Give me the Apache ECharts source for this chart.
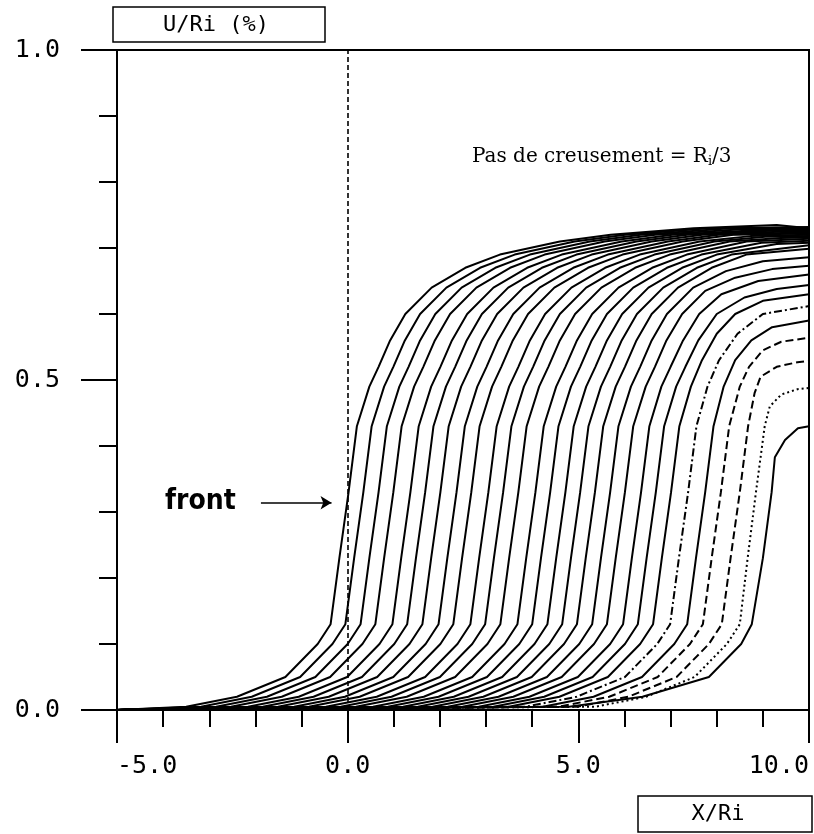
<!DOCTYPE html>
<html>
<head>
<meta charset="utf-8" />
<title>U/Ri front profiles</title>
<script src="https://cdn.jsdelivr.net/npm/echarts@6/dist/echarts.min.js"></script>
<style>
  html, body { margin: 0; padding: 0; background: #fff; }
  #main { width: 814px; height: 834px; }
</style>
</head>
<body>
<div id="main"></div>
<script>
// U levels shared by the lower (foot + steep) part of every profile
var uLevels = [0, 0.005, 0.02, 0.05, 0.10, 0.13, 0.23, 0.33, 0.43];

// X/Ri where each profile crosses uLevels (one row per excavation step)
var riseX = [
  [-5, -3.50, -2.40, -1.35, -0.65, -0.37, -0.18, 0.02, 0.20],
  [-5, -3.18, -2.08, -1.03, -0.33, -0.05, 0.14, 0.34, 0.52],
  [-5, -2.85, -1.75, -0.70, 0.00, 0.28, 0.47, 0.67, 0.85],
  [-5, -2.53, -1.43, -0.38, 0.32, 0.60, 0.79, 0.99, 1.17],
  [-5, -2.16, -1.06, -0.01, 0.69, 0.97, 1.16, 1.36, 1.54],
  [-5, -1.84, -0.74, 0.31, 1.01, 1.29, 1.48, 1.68, 1.86],
  [-5, -1.51, -0.41, 0.64, 1.34, 1.62, 1.81, 2.01, 2.19],
  [-5, -1.16, -0.06, 0.99, 1.69, 1.97, 2.16, 2.36, 2.54],
  [-5, -0.84, 0.26, 1.31, 2.01, 2.29, 2.48, 2.68, 2.86],
  [-5, -0.47, 0.63, 1.68, 2.38, 2.66, 2.85, 3.05, 3.23],
  [-5, -0.15, 0.95, 2.00, 2.70, 2.98, 3.17, 3.37, 3.55],
  [-5, 0.18, 1.28, 2.33, 3.03, 3.31, 3.50, 3.70, 3.88],
  [-5, 0.55, 1.65, 2.70, 3.40, 3.68, 3.87, 4.07, 4.25],
  [-5, 0.87, 1.97, 3.02, 3.72, 4.00, 4.19, 4.39, 4.57],
  [-5, 1.20, 2.30, 3.35, 4.05, 4.33, 4.52, 4.72, 4.90],
  [-5, 1.52, 2.62, 3.67, 4.37, 4.65, 4.84, 5.04, 5.22],
  [-5, 1.84, 2.94, 3.99, 4.69, 4.97, 5.16, 5.36, 5.54],
  [-5, 2.17, 3.27, 4.32, 5.02, 5.30, 5.49, 5.69, 5.87],
  [-5, 2.49, 3.59, 4.64, 5.34, 5.62, 5.81, 6.01, 6.19],
  [-5, 2.84, 3.94, 4.99, 5.69, 5.97, 6.16, 6.36, 6.54],
  [-5, 3.16, 4.26, 5.31, 6.01, 6.29, 6.48, 6.68, 6.86],
  [-5, 3.49, 4.59, 5.64, 6.34, 6.62, 6.81, 7.01, 7.19],
  [-5, 3.86, 4.96, 6.01, 6.71, 6.99, 7.18, 7.38, 7.56],
  [-5, 4.23, 5.33, 6.38, 7.08, 7.36, 7.55, 7.75, 7.93],
  [-5, 4.57, 5.67, 6.72, 7.42, 7.70, 7.89, 8.09, 8.27],
  [-5, 4.98, 6.08, 7.13, 7.83, 8.11, 8.30, 8.50, 8.68],
  [-5, 5.37, 6.47, 7.52, 8.22, 8.50, 8.67, 8.85, 9.04],
  [-5, 4.80, 6.39, 7.83, 8.53, 8.76, 9.00, 9.19]
];

// upper bend and plateau of each profile, [X/Ri, U/Ri]
var plateauPts = [
  [[0.47,.49],[0.67,.52],[0.92,.56],[1.25,.60],[1.82,.64],[2.55,.67],[3.30,.69],[4.60,.71],[5.70,.72],[7.50,.73],[9.30,.735],[10,.73]],
  [[0.79,.49],[0.99,.52],[1.24,.56],[1.57,.60],[2.14,.64],[2.87,.67],[3.62,.69],[4.92,.71],[6.02,.72],[7.82,.73],[10,.732]],
  [[1.12,.49],[1.32,.52],[1.57,.56],[1.90,.60],[2.47,.64],[3.20,.67],[3.95,.69],[5.25,.71],[6.35,.72],[8.15,.729],[10,.73]],
  [[1.44,.49],[1.64,.52],[1.89,.56],[2.22,.60],[2.79,.64],[3.52,.67],[4.27,.69],[5.57,.71],[6.67,.72],[8.47,.728],[10,.728]],
  [[1.81,.49],[2.01,.52],[2.26,.56],[2.59,.60],[3.16,.64],[3.89,.67],[4.64,.69],[5.94,.71],[7.04,.72],[8.84,.727],[10,.727]],
  [[2.13,.49],[2.33,.52],[2.58,.56],[2.91,.60],[3.48,.64],[4.21,.67],[4.96,.69],[6.26,.71],[7.36,.72],[9.16,.726],[10,.726]],
  [[2.46,.49],[2.66,.52],[2.91,.56],[3.24,.60],[3.81,.64],[4.54,.67],[5.29,.69],[6.59,.71],[7.69,.72],[9.49,.725],[10,.725]],
  [[2.81,.49],[3.01,.52],[3.26,.56],[3.59,.60],[4.16,.64],[4.89,.67],[5.64,.69],[6.94,.71],[8.04,.72],[10,.724]],
  [[3.13,.49],[3.33,.52],[3.58,.56],[3.91,.60],[4.48,.64],[5.21,.67],[5.96,.69],[7.26,.71],[8.36,.72],[10,.722]],
  [[3.50,.49],[3.70,.52],[3.95,.56],[4.28,.60],[4.85,.64],[5.58,.67],[6.33,.69],[7.63,.71],[8.73,.718],[10,.72]],
  [[3.82,.49],[4.02,.52],[4.27,.56],[4.60,.60],[5.17,.64],[5.90,.67],[6.65,.69],[7.95,.71],[9.05,.717],[10,.718]],
  [[4.15,.49],[4.35,.52],[4.60,.56],[4.93,.60],[5.50,.64],[6.23,.67],[6.98,.69],[8.28,.71],[9.38,.715],[10,.716]],
  [[4.52,.49],[4.72,.52],[4.97,.56],[5.30,.60],[5.87,.64],[6.60,.67],[7.35,.69],[8.65,.71],[10,.714]],
  [[4.84,.49],[5.04,.52],[5.29,.56],[5.62,.60],[6.19,.64],[6.92,.67],[7.67,.69],[8.97,.708],[10,.711]],
  [[5.17,.49],[5.37,.52],[5.62,.56],[5.95,.60],[6.52,.64],[7.25,.67],[8.00,.69],[9.30,.706],[10,.708]],
  [[5.49,.49],[5.69,.52],[5.94,.56],[6.27,.60],[6.84,.64],[7.57,.67],[8.32,.69],[10,.704]],
  [[5.81,.49],[6.01,.52],[6.26,.56],[6.59,.60],[7.16,.64],[7.89,.67],[8.64,.69],[10,.699]],
  [[6.14,.49],[6.34,.52],[6.59,.56],[6.92,.60],[7.49,.64],[8.20,.665],[9.00,.68],[10,.686]],
  [[6.46,.49],[6.66,.52],[6.91,.56],[7.25,.60],[7.75,.635],[8.40,.655],[9.20,.668],[10,.673]],
  [[6.80,.49],[7.00,.52],[7.27,.56],[7.62,.60],[8.10,.63],[8.90,.65],[10,.66]],
  [[7.12,.49],[7.32,.52],[7.60,.56],[8.00,.60],[8.60,.625],[9.30,.638],[10,.644]],
  [[7.44,.49],[7.68,.53],[8.00,.57],[8.40,.60],[9.00,.62],[10,.63]],
  [[7.80,.49],[8.05,.53],[8.45,.57],[9.00,.60],[10,.612]],
  [[8.15,.49],[8.40,.53],[8.75,.56],[9.20,.58],[10,.59]],
  [[8.50,.49],[8.70,.52],[9.00,.545],[9.40,.558],[10,.564]],
  [[8.82,.48],[8.95,.505],[9.30,.52],[9.75,.527],[10,.529]],
  [[9.15,.46],[9.40,.478],[9.75,.486],[10,.488]],
  [[9.26,.383],[9.48,.409],[9.76,.427],[10,.43]]
];

// plotter pen style of each profile
var penTypes = ['solid','solid','solid','solid','solid','solid','solid','solid','solid','solid',
  'solid','solid','solid','solid','solid','solid','solid','solid','solid','solid',
  'solid','solid','dashdot','solid','dashed','dashed','dotted','solid'];

var xTicks = { min: -5, max: 10, step: 5 };
var yTicks = { min: 0, max: 1, step: 0.5 };
var frontX = 0;
var arrowFrom = [-1.88, 0.314], arrowTo = [-0.35, 0.314];

var dashMap = {
  solid: 'solid',
  dashed: [8, 4],
  dotted: [2, 3],
  dashdot: [8, 3, 2, 3]
};

var series = riseX.map(function (xs, i) {
  var data = xs.map(function (x, j) { return [x, uLevels[j]]; });
  data = data.concat(plateauPts[i]);
  return {
    type: 'line',
    data: data,
    showSymbol: false,
    silent: true,
    lineStyle: { color: '#000', width: 2, type: dashMap[penTypes[i]] },
    z: 2
  };
});

series[0].markLine = {
  silent: true,
  symbol: ['none', 'none'],
  label: { show: false },
  lineStyle: { color: '#000', width: 1.6, type: [5, 3] },
  data: [{ xAxis: frontX }]
};
series[1].markLine = {
  silent: true,
  symbol: ['none', 'arrow'],
  symbolSize: [10, 11],
  label: { show: false },
  lineStyle: { color: '#000', width: 1.6, type: 'solid' },
  data: [[{ coord: arrowFrom }, { coord: arrowTo }]]
};

var axisFont = { fontFamily: 'DejaVu Sans Mono', fontSize: 25, color: '#000' };
var pen = { color: '#000', width: 2 };

var chart = echarts.init(document.getElementById('main'), null, { renderer: 'canvas' });
chart.setOption({
  animation: false,
  backgroundColor: '#fff',
  grid: {
    left: 117, right: 5, top: 50, bottom: 124,
    show: true, borderColor: '#000', borderWidth: 2
  },
  xAxis: {
    type: 'value',
    min: xTicks.min, max: xTicks.max, interval: xTicks.step,
    axisLine: { show: true, onZero: false, lineStyle: pen },
    axisTick: { show: true, length: 33, lineStyle: pen },
    minorTick: { show: true, splitNumber: 5, length: 17, lineStyle: pen },
    splitLine: { show: false },
    axisLabel: Object.assign({
      margin: 44,
      alignMinLabel: 'left',
      alignMaxLabel: 'right',
      formatter: function (v) { return v.toFixed(1); }
    }, axisFont)
  },
  yAxis: {
    type: 'value',
    min: yTicks.min, max: yTicks.max, interval: yTicks.step,
    axisLine: { show: true, onZero: false, lineStyle: pen },
    axisTick: { show: true, length: 36, lineStyle: pen },
    minorTick: { show: true, splitNumber: 5, length: 18, lineStyle: pen },
    splitLine: { show: false },
    axisLabel: Object.assign({
      margin: 57,
      formatter: function (v) { return v.toFixed(1); }
    }, axisFont)
  },
  graphic: [
    { type: 'rect', shape: { x: 113, y: 7, width: 212, height: 35 },
      style: { fill: 'none', stroke: '#000', lineWidth: 1.5 } },
    { type: 'text', x: 216, y: 25,
      style: { text: 'U/Ri (%)', fill: '#000', font: '22px "DejaVu Sans Mono"', align: 'center', verticalAlign: 'middle' } },
    { type: 'rect', shape: { x: 638, y: 796, width: 174, height: 36 },
      style: { fill: 'none', stroke: '#000', lineWidth: 1.5 } },
    { type: 'text', x: 718, y: 814,
      style: { text: 'X/Ri', fill: '#000', font: '22px "DejaVu Sans Mono"', align: 'center', verticalAlign: 'middle' } },
    { type: 'text', x: 165, y: 502,
      style: { text: 'front', fill: '#000', font: 'bold 28px "DejaVu Sans Condensed"', verticalAlign: 'middle' } },
    { type: 'text', x: 472, y: 157,
      style: {
        text: 'Pas de creusement = R{sub|i}/3',
        fill: '#000', font: '20px "DejaVu Serif"', verticalAlign: 'middle',
        rich: { sub: { fontSize: 13, fontFamily: 'DejaVu Serif', padding: [10, 0, 0, 0] } }
      } }
  ],
  series: series
});
</script>
</body>
</html>
